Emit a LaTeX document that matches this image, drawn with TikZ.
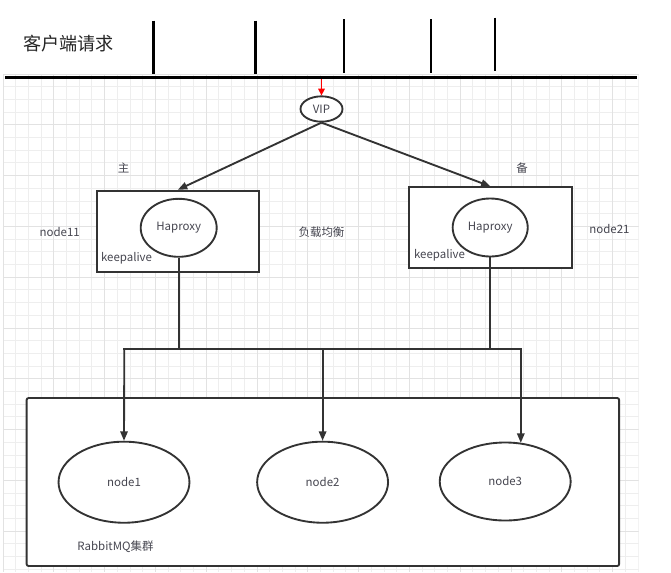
\documentclass[tikz,border=0pt]{standalone}
\usepackage{fontspec}
\setmainfont{Noto Sans CJK SC}
\usetikzlibrary{arrows.meta,shapes.geometric}
\definecolor{txt}{RGB}{70,70,80}
\definecolor{ln}{RGB}{51,51,51}
\definecolor{gridminor}{RGB}{238,238,238}
\definecolor{gridmajor}{RGB}{226,226,226}
\tikzset{
  lbl/.style={font=\fontsize{8.6pt}{10pt}\selectfont, text=txt, inner sep=0pt},
  boxst/.style={draw=ln, line width=1.4pt, fill=white, rectangle, inner sep=0pt},
  ellst/.style={draw=ln, line width=1.4pt, fill=white, ellipse, inner sep=0pt,
    font=\fontsize{8.6pt}{10pt}\selectfont, text=txt},
  conn/.style={draw=ln, line width=1.4pt},
  arr/.style={conn, -{Triangle[length=7pt,width=5.5pt]}},
  tick/.style={draw=black, line width=1.9pt},
}
\begin{document}
\begin{tikzpicture}[x=0.75pt,y=-0.75pt]
\useasboundingbox[fill=white] (0,0) rectangle (671,572);
% grid
\begin{scope}
\clip (3,74) rectangle (638.5,572);
\foreach \i in {0,...,50} {
  \pgfmathsetmacro{\gx}{3+12.7*\i}
  \draw[gridminor, line width=0.75pt] (\gx,74) -- (\gx,572);
}
\foreach \j in {0,...,40} {
  \pgfmathsetmacro{\gy}{74+12.7*\j}
  \draw[gridminor, line width=0.75pt] (3,\gy) -- (638.5,\gy);
}
\foreach \i in {0,4,...,48} {
  \pgfmathsetmacro{\gx}{3+12.7*\i}
  \draw[gridmajor, line width=0.75pt] (\gx,74) -- (\gx,572);
}
\foreach \j in {0,4,...,40} {
  \pgfmathsetmacro{\gy}{74+12.7*\j}
  \draw[gridmajor, line width=0.75pt] (3,\gy) -- (638.5,\gy);
}
\end{scope}

% top: client requests
\node[font=\fontsize{13.6pt}{16pt}\selectfont, text=black!85, inner sep=0pt] (client) at (68.5,43.5) {客户端请求};
\coordinate (baseL) at (5,77.5);
\coordinate (baseR) at (637,77.5);
\draw[draw=black, line width=2.2pt] (baseL) -- (baseR);
\coordinate (t1a) at (153.5,20.5); \coordinate (t1b) at (153.5,74);
\coordinate (t2a) at (255.5,20.5); \coordinate (t2b) at (255.5,74);
\coordinate (t3a) at (344,19.3); \coordinate (t3b) at (344,72.7);
\coordinate (t4a) at (431,19.3); \coordinate (t4b) at (431,72.7);
\coordinate (t5a) at (495,17.7); \coordinate (t5b) at (495,71.3);
\draw[tick] (t1a) -- (t1b);
\draw[tick] (t2a) -- (t2b);
\draw[tick] (t3a) -- (t3b);
\draw[tick] (t4a) -- (t4b);
\draw[tick] (t5a) -- (t5b);

% VIP
\node[ellst, minimum width=31.5pt, minimum height=19pt] (vip) at (321.5,109) {VIP};
\coordinate (req) at (321.5,79);
\draw[red, line width=0.8pt, -{Triangle[length=5pt,width=5pt]}] (req) -- (vip.north);

% boxes
\node[boxst, minimum width=121.7pt, minimum height=60.8pt] (lbox) at (177.9,231.2) {};
\node[boxst, minimum width=122pt, minimum height=60.3pt] (rbox) at (490.4,227.5) {};
\node[ellst, minimum width=57pt, minimum height=43.5pt] (lha) at (178.7,227.8) {Haproxy};
\node[ellst, minimum width=56.3pt, minimum height=43.5pt] (rha) at (490.2,227.5) {Haproxy};
\node[lbl] (lka) at (126.5,258) {keepalive};
\node[lbl] (rka) at (439.5,255) {keepalive};

\draw[arr] (vip.south) -- (lbox.north);
\draw[arr] (vip.south) -- (rbox.north);

\node[lbl] (zhu) at (123.5,168) {主};
\node[lbl] (bei) at (522,168) {备};
\node[lbl] (n11) at (59.7,232.5) {node11};
\node[lbl] (n21) at (609.5,229) {node21};
\node[lbl] (lb) at (321.5,232.5) {负载均衡};

% cluster
\node[boxst, rounded corners=1.5pt, minimum width=444.4pt, minimum height=126pt] (cluster) at (322.9,482) {};
\node[ellst, minimum width=98.2pt, minimum height=60.8pt] (n1) at (124,482.2) {node1};
\node[ellst, minimum width=98.2pt, minimum height=60.8pt] (n2) at (322.6,482.2) {node2};
\node[ellst, minimum width=98.2pt, minimum height=58.5pt] (n3) at (505.2,481.5) {node3};
\node[lbl] (rmq) at (115.5,547) {RabbitMQ集群};

% bus
\coordinate (busL) at (124.3,349.2);
\coordinate (busM) at (322.6,349.2);
\coordinate (busR) at (520.8,349.2);
\draw[conn] (lha.south) -- (lha.south |- busL);
\draw[conn] (rha.south) -- (rha.south |- busR);
\draw[conn, line cap=rect] (busL) -- (busR);
\draw[arr] (busL) -- (n1.north);
\draw[arr] (busM) -- (n2.north);
\draw[arr] (busR) -- (busR |- n3.67);
\end{tikzpicture}
\end{document}
